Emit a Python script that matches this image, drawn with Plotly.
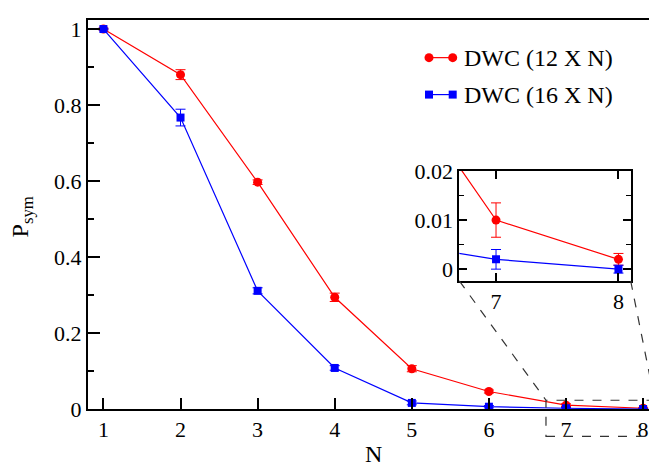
import plotly.graph_objects as go

# ---- data ----
N = [1, 2, 3, 4, 5, 6, 7, 8]
p12 = [1.0, 0.880, 0.597, 0.294, 0.106, 0.046, 0.010, 0.002]
e12 = [0.002, 0.013, 0.006, 0.011, 0.008, 0.004, 0.0035, 0.0012]
p16 = [1.0, 0.767, 0.311, 0.108, 0.016, 0.006, 0.002, 0.0]
e16 = [0.002, 0.022, 0.008, 0.006, 0.005, 0.003, 0.002, 0.0008]
names = ["DWC (12 X N)", "DWC (16 X N)"]

# ---- layout geometry (page pixels; the page body has an 8px margin) ----
OFF = 8
W, H = 649, 458
ML, MR, MT, MB = 80, 0, 1, 57
PW, PH = W - ML - MR, H - MT - MB
XR = [0.8, 8.18]
YR = [0, 1.0238]
IXR = [6.7, 8.1]
IYR = [-0.0024, 0.02005]
ZOOM_X = [6.74, 8.15]
ZOOM_Y = [-0.072, 0.023]


def pxx(px):
    return (px - OFF - ML) / PW


def pxy(py):
    return (H - MB - (py - OFF)) / PH


def dx(x):
    return (x - XR[0]) / (XR[1] - XR[0])


def dy(y):
    return (y - YR[0]) / (YR[1] - YR[0])


INS_X = [pxx(459.3), pxx(630.7)]
INS_Y = [pxy(277.3), pxy(164)]

RED, BLUE = "#ff0000", "#0000ff"
FONT = "Liberation Serif"

fig = go.Figure()

for xa, ya in [("x", "y"), ("x2", "y2")]:
    fig.add_trace(go.Scatter(
        x=N, y=p12, mode="lines+markers", xaxis=xa, yaxis=ya,
        line=dict(color=RED, width=1.2),
        marker=dict(symbol="circle", size=9, color=RED),
        error_y=dict(type="data", array=e12, color=RED, thickness=1, width=5),
        showlegend=False))
    fig.add_trace(go.Scatter(
        x=N, y=p16, mode="lines+markers", xaxis=xa, yaxis=ya,
        line=dict(color=BLUE, width=1.2),
        marker=dict(symbol="square", size=8, color=BLUE),
        error_y=dict(type="data", array=e16, color=BLUE, thickness=1, width=5),
        showlegend=False))

# custom legend (marker-line-marker), positioned in page pixels
leg_rows = [(47.7, RED, "circle", 9, names[0]), (85.7, BLUE, "square", 8, names[1])]
for yy, col, sym, sz, nm in leg_rows:
    fig.add_trace(go.Scatter(
        x=[429, 452.7], y=[yy, yy], mode="lines+markers", xaxis="x3", yaxis="y3",
        line=dict(color=col, width=1.2),
        marker=dict(symbol=sym, size=sz, color=col),
        showlegend=False, hoverinfo="skip", cliponaxis=False))
    fig.add_annotation(x=pxx(462), y=pxy(yy), xref="paper", yref="paper",
                       text=nm, showarrow=False, xanchor="left", yanchor="middle",
                       font=dict(family=FONT, size=24, color="black"))

axis_common = dict(showgrid=False, zeroline=False, showline=True, linecolor="black",
                   ticks="inside", tickcolor="black",
                   tickfont=dict(family=FONT, size=22, color="black"))

fig.update_layout(
    width=W, height=H,
    margin=dict(l=ML, r=MR, t=MT, b=MB, pad=0),
    font=dict(family=FONT, size=22, color="black"),
    paper_bgcolor="white", plot_bgcolor="rgba(0,0,0,0)",
    showlegend=False,
    xaxis=dict(axis_common, domain=[0, 1], range=XR, tickvals=N, ticklen=11,
               tickwidth=1.5, linewidth=2, mirror=True, anchor="y"),
    yaxis=dict(axis_common, domain=[0, 1], range=YR, dtick=0.2, tick0=0, ticklen=12,
               tickwidth=1.5, linewidth=2, anchor="x",
               minor=dict(dtick=0.1, tick0=0, ticks="inside", ticklen=6,
                          tickwidth=1.5, tickcolor="black")),
    xaxis2=dict(axis_common, domain=INS_X, range=IXR, tickvals=[7, 8], ticklen=8,
                tickwidth=1.5, linewidth=2, mirror="allticks", anchor="y2"),
    yaxis2=dict(axis_common, domain=INS_Y, range=IYR, dtick=0.01, tick0=0, ticklen=8,
                tickwidth=1.5, linewidth=2, mirror="allticks", anchor="x2",
                minor=dict(dtick=0.005, tick0=0, ticks="inside", ticklen=5,
                           tickwidth=1.2, tickcolor="black")),
    xaxis3=dict(overlaying="x", range=[ML + OFF, W - MR + OFF], visible=False),
    yaxis3=dict(overlaying="y", range=[H - MB + OFF, MT + OFF], visible=False),
)

# axis titles
fig.add_annotation(x=pxx(373), y=pxy(455), xref="paper", yref="paper", text="N",
                   showarrow=False, xanchor="center", yanchor="middle",
                   font=dict(family=FONT, size=24, color="black"))
fig.add_annotation(x=pxx(22), y=pxy(212), xref="paper", yref="paper",
                   text="P<sub>sym</sub>", textangle=-90, showarrow=False,
                   xanchor="center", yanchor="middle",
                   font=dict(family=FONT, size=24, color="black"))

# zoom box and connectors
dash = dict(color="#333333", width=1.2, dash="dash")
fig.add_shape(type="rect", xref="paper", yref="paper",
              x0=dx(ZOOM_X[0]), x1=dx(ZOOM_X[1]), y0=dy(ZOOM_Y[0]), y1=dy(ZOOM_Y[1]),
              line=dash)
fig.add_shape(type="line", xref="paper", yref="paper",
              x0=INS_X[0], y0=INS_Y[0], x1=dx(ZOOM_X[0]), y1=dy(ZOOM_Y[1]), line=dash)
fig.add_shape(type="line", xref="paper", yref="paper",
              x0=INS_X[1], y0=INS_Y[0], x1=dx(ZOOM_X[1]), y1=dy(ZOOM_Y[1]), line=dash)

fig.write_html("out.html")
